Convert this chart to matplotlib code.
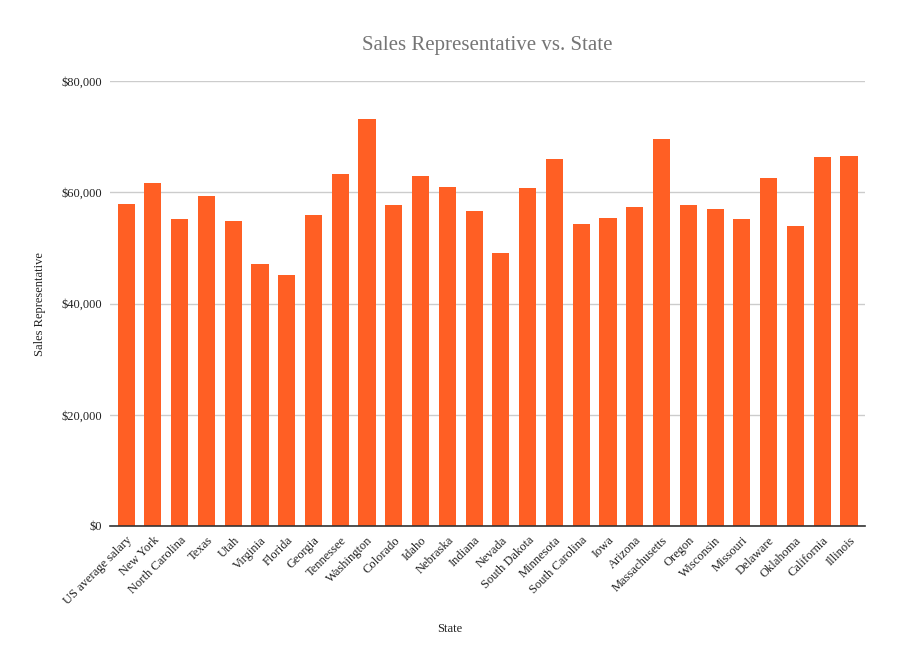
import numpy as np
import matplotlib
matplotlib.use("Agg")
import matplotlib.pyplot as plt
from matplotlib.ticker import FuncFormatter

# data

states = ["US average salary", "New York", "North Carolina", "Texas", "Utah",
          "Virginia", "Florida", "Georgia", "Tennessee", "Washington",
          "Colorado", "Idaho", "Nebraska", "Indiana", "Nevada", "South Dakota",
          "Minnesota", "South Carolina", "Iowa", "Arizona", "Massachusetts",
          "Oregon", "Wisconsin", "Missouri", "Delaware", "Oklahoma",
          "California", "Illinois"]
salaries = [57900, 61700, 55200, 59300, 54800,
            47100, 45100, 55900, 63300, 73200,
            57700, 62900, 60900, 56600, 49100, 60800,
            66000, 54300, 55400, 57300, 69600,
            57700, 57000, 55200, 62600, 53900,
            66300, 66500]
yticks = [0, 20000, 40000, 60000, 80000]

plt.rcParams['font.family'] = ['Liberation Serif', 'DejaVu Serif']

fig = plt.figure(figsize=(8.99, 6.68), dpi=100)
ax = fig.add_axes([0.1224, 0.2126, 0.8398, 0.6661])

x = np.arange(len(states))
ax.bar(x, salaries, width=0.64, color='#ff5f24', zorder=3)

ax.set_xlim(-0.6, len(states) - 0.4)
ax.set_ylim(0, 80000)
ax.set_yticks(yticks)
ax.yaxis.set_major_formatter(FuncFormatter(lambda v, p: f"${v:,.0f}"))
ax.grid(axis='y', color='#cccccc', linewidth=1, zorder=0)

ax.set_xticks(x)
ax.set_xticklabels(states, rotation=45, ha='right', rotation_mode='anchor',
                   fontsize=9, color='#222222')
ax.tick_params(axis='x', length=0, pad=6)
ax.tick_params(axis='y', length=0, pad=6, labelsize=9, labelcolor='#222222')

for s in ['top', 'right', 'left']:
    ax.spines[s].set_visible(False)
ax.spines['bottom'].set_color('#333333')
ax.spines['bottom'].set_linewidth(1.2)
ax.spines['bottom'].set_zorder(4)

ax.set_title('Sales Representative vs. State', fontsize=15, color='#757575', pad=22)
fig.text(0.5, 0.058, 'State', ha='center', va='center', fontsize=9, color='#222222')
fig.text(0.044, 0.545, 'Sales Representative', ha='center', va='center',
         rotation=90, fontsize=9, color='#222222')

fig.savefig('out.png', dpi=100)
